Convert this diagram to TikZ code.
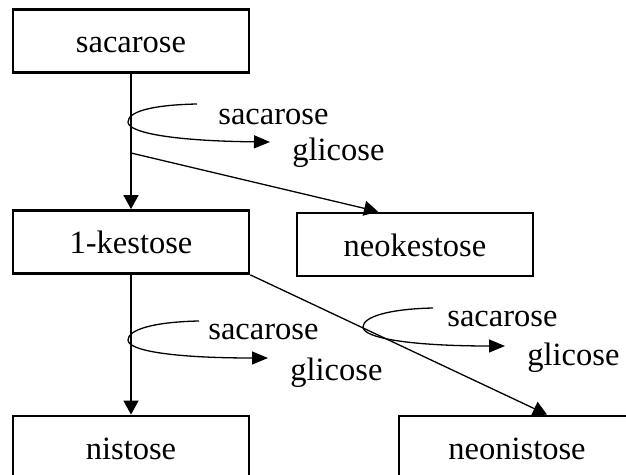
\documentclass[tikz,border=0pt]{standalone}
\usepackage{fontspec}
\setmainfont{Liberation Serif}
\usetikzlibrary{arrows.meta,calc}
\begin{document}
\begin{tikzpicture}[x=0.5pt,y=-0.5pt,
  box/.style={draw,line width=1.4pt,minimum width=118pt,minimum height=31.5pt,inner sep=0pt,text height=12pt,text depth=0pt,font=\fontsize{16.25}{18}\selectfont},
  lbl/.style={anchor=base west,inner sep=0pt,font=\fontsize{16.25}{18}\selectfont},
  conn/.style={line width=0.65pt,-{Triangle[length=7pt,width=7.5pt]}},
  curl/.style={line width=0.65pt,-{Triangle[length=8pt,width=6.5pt]}}]
\useasboundingbox (0,0) rectangle (626,475);
\clip (0,0) rectangle (626,475);
% boxes
\node[box] (sac)  at (131,41)    {sacarose};
\node[box] (kes)  at (131,242)   {1-kestose};
\node[box] (neok) at (415,244.5) {neokestose};
\node[box] (nis)  at (131,447.5) {nistose};
\node[box] (neon) at (517,447.5) {neonistose};
% main connectors
\draw[conn] (sac) -- (kes);
\coordinate (j1) at (131,153);
\draw[conn] (j1) -- ($(neok.north)+(-37,0)$);
\draw[conn] (kes) -- (nis);
\draw[conn] (kes.south east) -- ($(neon.north)+(30,0)$);
% curls
\coordinate (c1s) at (197,104); \coordinate (c1e) at (270,142);
\draw[curl] (c1s) .. controls (150,105) and (128,112) .. (128,122)
  .. controls (128,133) and (175,141) .. (c1e);
\coordinate (c2s) at (199,321); \coordinate (c2e) at (268,358);
\draw[curl] (c2s) .. controls (152,322) and (128,330) .. (128,340)
  .. controls (128,351) and (175,358) .. (c2e);
\coordinate (c3s) at (433,308); \coordinate (c3e) at (505,346);
\draw[curl] (c3s) .. controls (388,309) and (363,317) .. (363,327)
  .. controls (363,338) and (410,346) .. (c3e);
% labels
\node[lbl] (s1) at (218,125) {sacarose};
\node[lbl] (g1) at (292,161) {glicose};
\node[lbl] (s2) at (208,340) {sacarose};
\node[lbl] (g2) at (290,380) {glicose};
\node[lbl] (s3) at (447,327) {sacarose};
\node[lbl] (g3) at (527,365) {glicose};
\end{tikzpicture}
\end{document}
